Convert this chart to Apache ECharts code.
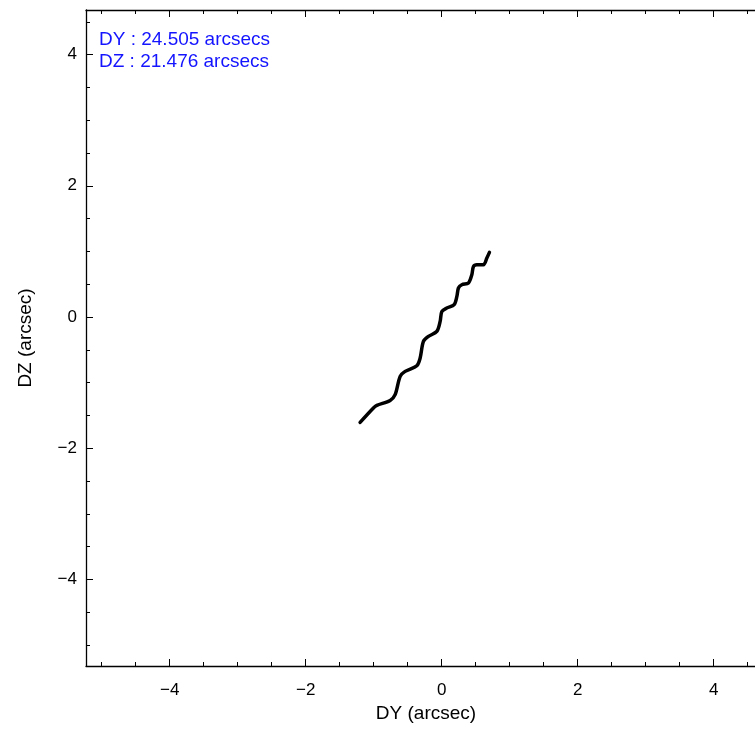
<!DOCTYPE html>
<html>
<head>
<meta charset="utf-8">
<script src="https://cdn.jsdelivr.net/npm/echarts@6/dist/echarts.min.js"></script>
<style>html,body{margin:0;padding:0;background:#fff;overflow:hidden;width:755px;height:729px;}#c{width:780px;height:729px;}</style>
</head>
<body>
<div id="c"></div>
<script>
const dyVals = [-1.199,-1.003,-0.953,-0.757,-0.684,-0.610,-0.537,-0.365,-0.316,-0.268,-0.194,-0.071,-0.022,0.003,0.076,0.184,0.224,0.247,0.297,0.394,0.444,0.468,0.518,0.615,0.665,0.703];
const dzVals = [-1.607,-1.387,-1.348,-1.271,-1.184,-0.905,-0.829,-0.742,-0.625,-0.372,-0.296,-0.220,-0.067,0.085,0.137,0.188,0.314,0.442,0.492,0.518,0.645,0.771,0.797,0.797,0.899,0.985];
const majorTicks = [-4,-2,0,2,4];
const minorTicksX = [-5,-4.5,-4,-3.5,-3,-2.5,-2,-1.5,-1,-0.5,0,0.5,1,1.5,2,2.5,3,3.5,4,4.5];
const minorTicksY = [-5,-4.5,-4,-3.5,-3,-2.5,-2,-1.5,-1,-0.5,0,0.5,1,1.5,2,2.5,3,3.5,4,4.5];
const xRange = [-5.23, 4.77];
const yRange = [-5.32, 4.68];
const infoLines = ['DY : 24.505 arcsecs', 'DZ : 21.476 arcsecs'];
const xName = 'DY (arcsec)';
const yName = 'DZ (arcsec)';

const font = 'Liberation Sans, Arial, Helvetica, sans-serif';
const fmt = v => v < 0 ? '\u2212' + Math.abs(v) : String(v);

function mkAxis(type, pos, range, ticks, len, withLine, withLabel, name, nameGap) {
  const a = {
    type: 'value', position: pos, min: range[0], max: range[1],
    splitLine: {show: false},
    axisLine: {show: withLine, onZero: false, lineStyle: {color: '#000', width: 1.3}},
    axisTick: {show: true, inside: true, length: len, customValues: ticks, lineStyle: {color: '#000', width: 1}},
    axisLabel: {show: withLabel, customValues: ticks, formatter: fmt, color: '#000', fontSize: 17, fontFamily: font, margin: type === 'x' ? 16 : 9}
  };
  if (name) {
    a.name = name; a.nameLocation = 'middle'; a.nameGap = nameGap;
    a.nameTextStyle = {color: '#000', fontSize: 19, fontFamily: font};
  }
  return a;
}

const chart = echarts.init(document.getElementById('c'), null, {renderer: 'canvas'});
chart.setOption({
  animation: false,
  backgroundColor: '#fff',
  grid: {left: 86, top: 10, right: 14, bottom: 63, containLabel: false},
  xAxis: [
    mkAxis('x', 'bottom', xRange, majorTicks, 7, true, true, xName, 37),
    mkAxis('x', 'bottom', xRange, minorTicksX, 4, false, false),
    mkAxis('x', 'top', xRange, majorTicks, 7, true, false),
    mkAxis('x', 'top', xRange, minorTicksX, 4, false, false)
  ],
  yAxis: [
    mkAxis('y', 'left', yRange, majorTicks, 7, true, true, yName, 51),
    mkAxis('y', 'left', yRange, minorTicksY, 4, false, false),
    mkAxis('y', 'right', yRange, majorTicks, 7, true, false),
    mkAxis('y', 'right', yRange, minorTicksY, 4, false, false)
  ],
  graphic: infoLines.map((t, i) => ({
    type: 'text', left: 99, top: 30 + i * 22,
    style: {text: t, fill: '#1414ff', font: '19px ' + font}
  })),
  series: [{
    type: 'line', xAxisIndex: 0, yAxisIndex: 0,
    data: dyVals.map((v, i) => [v, dzVals[i]]),
    showSymbol: false, smooth: 0.3,
    lineStyle: {color: '#000', width: 3.5, cap: 'round', join: 'round'}
  }]
});
</script>
</body>
</html>
